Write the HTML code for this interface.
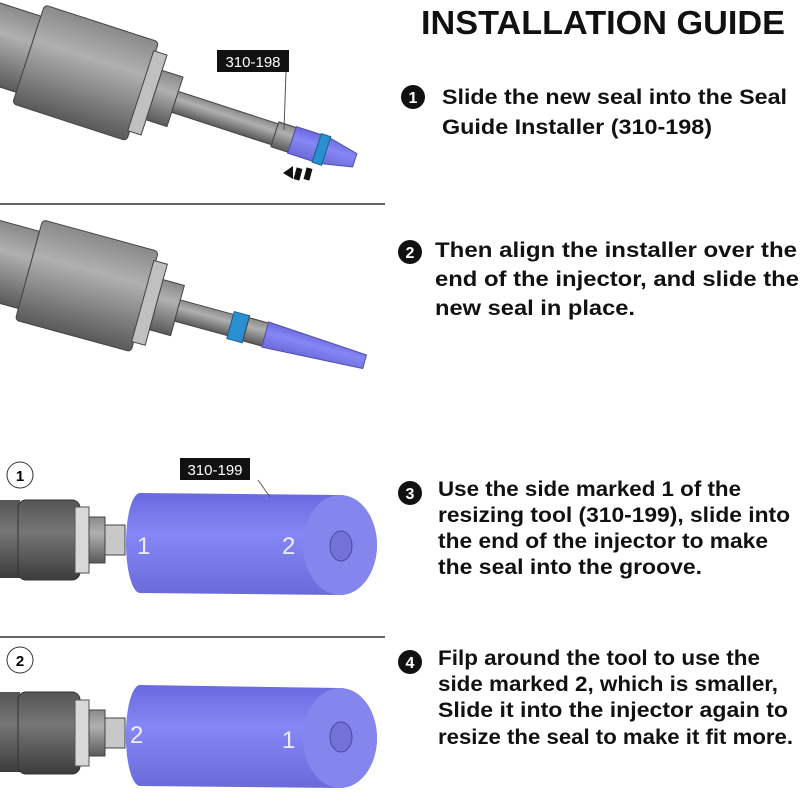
<!DOCTYPE html>
<html><head><style>
body{margin:0;background:#fff;}
svg{display:block}
.t{font-family:"Liberation Sans",sans-serif;font-weight:bold;font-size:21px;fill:#111}
</style></head><body>
<svg width="800" height="800" viewBox="0 0 800 800" xmlns="http://www.w3.org/2000/svg">
<defs>
<linearGradient id="g" x1="0" y1="0" x2="0" y2="1">
<stop offset="0" stop-color="#8a8a8a"/><stop offset="0.35" stop-color="#b0b0b0"/><stop offset="1" stop-color="#5a5a5a"/></linearGradient>
<linearGradient id="p" x1="0" y1="0" x2="0" y2="1">
<stop offset="0" stop-color="#6a6ae0"/><stop offset="0.4" stop-color="#8686f4"/><stop offset="1" stop-color="#6a6ad8"/></linearGradient>
<linearGradient id="dg" x1="0" y1="0" x2="0" y2="1">
<stop offset="0" stop-color="#555"/><stop offset="0.4" stop-color="#777"/><stop offset="1" stop-color="#3c3c3c"/></linearGradient>
</defs>
<rect width="800" height="800" fill="#fff"/>

<!-- injector 1 -->
<g transform="translate(0,45) rotate(18)">
<rect x="-30" y="-40" width="60" height="80" fill="url(#g)" stroke="#444" stroke-width="1"/>
<rect x="30" y="-52" width="120" height="104" rx="4" fill="url(#g)" stroke="#444"/>
<rect x="148" y="-42" width="14" height="84" fill="#c0c0c0" stroke="#444"/>
<rect x="162" y="-26" width="22" height="52" fill="url(#g)" stroke="#444"/>
<rect x="184" y="-11" width="105" height="22" fill="url(#g)" stroke="#444"/>
<rect x="289" y="-13" width="18" height="26" fill="url(#g)" stroke="#444"/>
<polygon points="307,-14 340,-14 373,-7 373,7 340,14 307,14" fill="url(#p)" stroke="#5050b0"/>
<rect x="333" y="-15" width="10" height="30" fill="#2a8fd0" stroke="#1a5f90"/>
</g>
<line x1="286" y1="72" x2="284" y2="130" stroke="#555"/>
<rect x="217" y="50" width="72" height="22" fill="#111"/>
<text x="253" y="67" text-anchor="middle" font-family="Liberation Sans,sans-serif" font-size="15" fill="#fff">310-198</text>
<polygon points="283,173 293,166 293,179" fill="#111"/>
<rect x="295" y="168" width="6" height="12" fill="#111" transform="rotate(15 298 174)"/>
<rect x="305" y="168" width="6" height="12" fill="#111" transform="rotate(15 308 174)"/>

<line x1="0" y1="204" x2="385" y2="204" stroke="#333" stroke-width="1.5"/>

<!-- injector 2 -->
<g transform="translate(0,262) rotate(15.3)">
<rect x="-30" y="-40" width="60" height="80" fill="url(#g)" stroke="#444"/>
<rect x="30" y="-52" width="120" height="104" rx="4" fill="url(#g)" stroke="#444"/>
<rect x="148" y="-42" width="14" height="84" fill="#c0c0c0" stroke="#444"/>
<rect x="162" y="-26" width="22" height="52" fill="url(#g)" stroke="#444"/>
<rect x="184" y="-11" width="55" height="22" fill="url(#g)" stroke="#444"/>
<rect x="239" y="-14" width="16" height="28" fill="#2a8fd0" stroke="#1a5f90"/>
<rect x="255" y="-12" width="20" height="24" fill="url(#g)" stroke="#444"/>
<polygon points="275,-13 378,-7 378,7 275,13" fill="url(#p)" stroke="#5050b0"/>
</g>

<!-- step 3 drawing -->
<circle cx="20" cy="475" r="13" fill="#fff" stroke="#333"/>
<text x="20" y="481" text-anchor="middle" font-family="Liberation Sans,sans-serif" font-weight="bold" font-size="15">1</text>
<rect x="0" y="500" width="20" height="78" fill="url(#dg)"/>
<rect x="18" y="500" width="62" height="80" rx="8" fill="url(#dg)" stroke="#333"/>
<rect x="75" y="507" width="14" height="66" fill="#d8d8d8" stroke="#555"/>
<rect x="89" y="517" width="16" height="46" fill="url(#g)" stroke="#444"/>
<rect x="105" y="525" width="20" height="30" fill="#c8c8c8" stroke="#444"/>
<path d="M140,493 L340,495 A37,50 0 0 1 340,595 L140,593 A14,50 0 0 1 140,493Z" fill="url(#p)"/>
<ellipse cx="340" cy="545" rx="37" ry="50" fill="#8585ee"/>
<ellipse cx="341" cy="546" rx="11" ry="15" fill="#7272d8" stroke="#4a4aa0"/>
<text x="137" y="554" font-family="Liberation Sans,sans-serif" font-size="24" fill="#eef">1</text>
<text x="282" y="554" font-family="Liberation Sans,sans-serif" font-size="24" fill="#eef">2</text>
<line x1="258" y1="480" x2="270" y2="497" stroke="#555"/>
<rect x="180" y="458" width="70" height="22" fill="#111"/>
<text x="215" y="475" text-anchor="middle" font-family="Liberation Sans,sans-serif" font-size="15" fill="#fff">310-199</text>

<line x1="0" y1="637" x2="385" y2="637" stroke="#333" stroke-width="1.5"/>

<!-- step 4 drawing -->
<circle cx="20" cy="660" r="13" fill="#fff" stroke="#333"/>
<text x="20" y="666" text-anchor="middle" font-family="Liberation Sans,sans-serif" font-weight="bold" font-size="15">2</text>
<rect x="0" y="692" width="20" height="80" fill="url(#dg)"/>
<rect x="18" y="692" width="62" height="82" rx="8" fill="url(#dg)" stroke="#333"/>
<rect x="75" y="700" width="14" height="66" fill="#d8d8d8" stroke="#555"/>
<rect x="89" y="710" width="16" height="46" fill="url(#g)" stroke="#444"/>
<rect x="105" y="718" width="20" height="30" fill="#c8c8c8" stroke="#444"/>
<path d="M140,685 L340,688 A37,50 0 0 1 340,788 L140,786 A14,50 0 0 1 140,685Z" fill="url(#p)"/>
<ellipse cx="340" cy="738" rx="37" ry="50" fill="#8585ee"/>
<ellipse cx="341" cy="737" rx="11" ry="15" fill="#7272d8" stroke="#4a4aa0"/>
<text x="130" y="743" font-family="Liberation Sans,sans-serif" font-size="24" fill="#eef">2</text>
<text x="282" y="748" font-family="Liberation Sans,sans-serif" font-size="24" fill="#eef">1</text>

<!-- text -->
<text x="421" y="34" textLength="364" lengthAdjust="spacingAndGlyphs" font-family="Liberation Sans,sans-serif" font-weight="bold" font-size="33" fill="#111">INSTALLATION GUIDE</text>

<circle cx="413" cy="97" r="12" fill="#111"/><text x="413" y="103" text-anchor="middle" font-family="Liberation Sans,sans-serif" font-weight="bold" font-size="16" fill="#fff">1</text>
<text class="t" x="442" y="104" textLength="345" lengthAdjust="spacingAndGlyphs">Slide the new seal into the Seal</text>
<text class="t" x="442" y="134" textLength="270" lengthAdjust="spacingAndGlyphs">Guide Installer (310-198)</text>

<circle cx="410" cy="252" r="12" fill="#111"/><text x="410" y="258" text-anchor="middle" font-family="Liberation Sans,sans-serif" font-weight="bold" font-size="16" fill="#fff">2</text>
<text class="t" x="435" y="257" textLength="362" lengthAdjust="spacingAndGlyphs">Then align the installer over the</text>
<text class="t" x="435" y="286" textLength="364" lengthAdjust="spacingAndGlyphs">end of the injector, and slide the</text>
<text class="t" x="435" y="315" textLength="200" lengthAdjust="spacingAndGlyphs">new seal  in place.</text>

<circle cx="410" cy="493" r="12" fill="#111"/><text x="410" y="499" text-anchor="middle" font-family="Liberation Sans,sans-serif" font-weight="bold" font-size="16" fill="#fff">3</text>
<text class="t" x="438" y="496" textLength="303" lengthAdjust="spacingAndGlyphs">Use the side marked 1 of the</text>
<text class="t" x="438" y="522" textLength="352" lengthAdjust="spacingAndGlyphs">resizing tool (310-199), slide into</text>
<text class="t" x="438" y="548" textLength="330" lengthAdjust="spacingAndGlyphs">the end of the injector to make</text>
<text class="t" x="438" y="574" textLength="264" lengthAdjust="spacingAndGlyphs">the seal into the groove.</text>

<circle cx="410" cy="662" r="12" fill="#111"/><text x="410" y="668" text-anchor="middle" font-family="Liberation Sans,sans-serif" font-weight="bold" font-size="16" fill="#fff">4</text>
<text class="t" x="438" y="665" textLength="322" lengthAdjust="spacingAndGlyphs">Filp around the tool to use the</text>
<text class="t" x="438" y="691" textLength="340" lengthAdjust="spacingAndGlyphs">side marked 2, which is smaller,</text>
<text class="t" x="438" y="717" textLength="350" lengthAdjust="spacingAndGlyphs">Slide it into the injector again to</text>
<text class="t" x="438" y="744" textLength="355" lengthAdjust="spacingAndGlyphs">resize the seal to make it fit more.</text>
</svg>
</body></html>
